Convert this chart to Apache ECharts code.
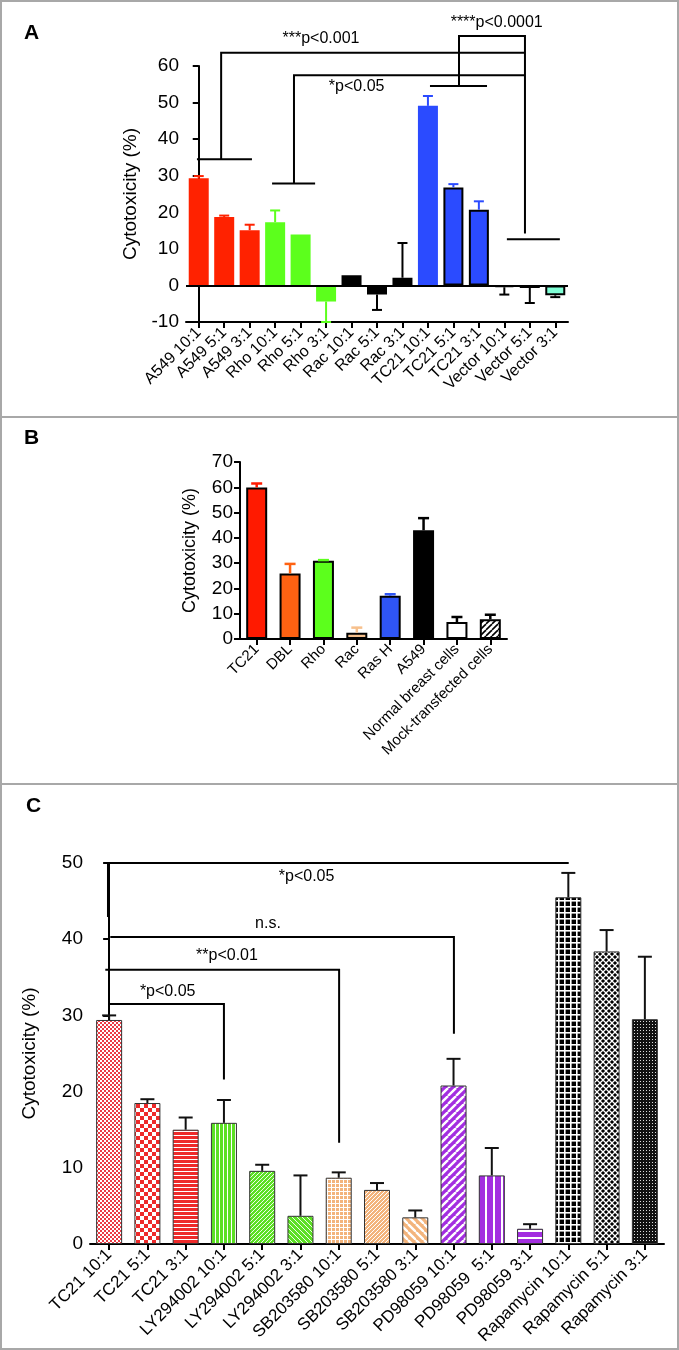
<!DOCTYPE html>
<html><head><meta charset="utf-8">
<script src="https://cdn.jsdelivr.net/npm/echarts@6/dist/echarts.min.js"></script>
<style>html,body{margin:0;padding:0;background:#fff}#c{width:679px;height:1350px}</style>
</head><body><div id="c"></div><script>
// ---------- DATA ----------
// Panel A
const catsA = ['A549 10:1','A549 5:1','A549 3:1','Rho 10:1','Rho 5:1','Rho 3:1','Rac 10:1','Rac 5:1','Rac 3:1','TC21 10:1','TC21 5:1','TC21 3:1','Vector 10:1','Vector 5:1','Vector 3:1'];
const valsA = [29.3,18.7,15.1,17.3,13.9,-4.4,2.8,-2.5,2.1,49.1,26.8,20.7,-0.5,-0.7,-2.7];
const semA  = [0.6,0.4,1.5,3.2,0,5.6,0,4.2,9.5,2.7,0.9,2.3,2.0,4.1,0.5];
// significance annotations, panel A (category index, value)
const bracketsA = [
  [[-0.07,34.5],[2.09,34.5]],
  [[0.88,34.5],[0.88,63.6],[12.81,63.6]],
  [[2.88,27.9],[4.57,27.9]],
  [[3.74,27.9],[3.74,57.5],[12.81,57.5]],
  [[9.08,54.5],[11.32,54.5]],
  [[10.22,54.5],[10.22,68.2],[12.81,68.2],[12.81,14.2]],
  [[12.10,12.6],[14.18,12.6]]
];
const notesA = [['***p<0.001',4.8,67.4],['****p<0.0001',11.7,71.8],['*p<0.05',6.2,54.5]];

// Panel B
const catsB = ['TC21','DBL','Rho','Rac','Ras H','A549','Normal breast cells','Mock-transfected cells'];
const valsB = [59.9,25.9,30.9,2.5,17.1,43.0,6.7,7.8];
const semB  = [1.6,3.8,0.3,2.0,0.6,4.8,2.0,1.8];

// Panel C
const catsC = ['TC21 10:1','TC21 5:1','TC21 3:1','LY294002 10:1','LY294002 5:1','LY294002 3:1','SB203580 10:1','SB203580 5:1','SB203580 3:1','PD98059 10:1','PD98059  5:1','PD98059 3:1','Rapamycin 10:1','Rapamycin 5:1','Rapamycin 3:1'];
const valsC = [29.4,18.5,15.0,15.9,9.6,3.7,8.7,7.1,3.5,20.8,9.0,2.0,45.5,38.4,29.5];
const semC  = [0.6,0.5,1.6,3.0,0.8,5.3,0.7,0.9,0.9,3.5,3.6,0.6,3.2,2.8,8.2];
const bracketsC = [
  [[-0.03,42.9],[-0.03,50],[12.01,50]],
  [[0.03,40.3],[9.01,40.3],[9.01,27.6]],
  [[-0.10,36],[6.01,36],[6.01,13.3]],
  [[-0.01,31.5],[3.0,31.5],[3.0,21.6]]
];
const notesC = [['*p<0.05',5.16,48.2],['n.s.',4.15,42.1],['**p<0.01',3.08,37.9],['*p<0.05',1.53,33.1]];

// ---------- STYLES ----------
const FONT = 'Liberation Sans, Arial, sans-serif';
const RED='#ff2200', GRN='#5cff1c', BLU='#2b4bff', AQU='#80ffd6';
const fillA = [RED,RED,RED,GRN,GRN,GRN,'#000','#000','#000',BLU,BLU,BLU,AQU,AQU,AQU];
const borderA = [null,null,null,null,null,null,'#000','#000','#000',null,'#000','#000','#000','#000','#000'];
const errColA = [RED,RED,RED,GRN,GRN,GRN,'#000','#000','#000',BLU,BLU,BLU,'#000','#000','#000'];

function pat(w,h,draw){const c=document.createElement('canvas');c.width=w;c.height=h;const g=c.getContext('2d');draw(g,w,h);return {image:c,repeat:'repeat'};}
function diag(g,s,t,col,dir){g.strokeStyle=col;g.lineWidth=t;for(let k=-1;k<=1;k++){g.beginPath();if(dir>0){g.moveTo(k*s,s);g.lineTo(k*s+s,0);}else{g.moveTo(k*s,0);g.lineTo(k*s+s,s);}g.stroke();}}
const R2='#ee2a2a', G2='#5ce024', P2='#f3b47c', V2='#a32ee0';
const fillB = ['#ff1a00','#ff6212',GRN,'#f7c08c','#2f55f5','#000','#fff',
  pat(6,6,(g,w,h)=>{g.fillStyle='#fff';g.fillRect(0,0,w,h);diag(g,6,1.6,'#000',1);})];
const errColB = ['#ff1a00','#ff6212',GRN,'#f7c08c','#2f55f5','#000','#000','#000'];
const fillC = [
  pat(4,4,(g)=>{g.fillStyle='#ec3a44';g.fillRect(0,0,4,4);g.fillStyle='#fff';g.fillRect(0,0,2,2);g.fillRect(2,2,2,2);}),
  pat(8,8,(g)=>{g.fillStyle='#fff';g.fillRect(0,0,8,8);g.fillStyle=R2;g.fillRect(0,0,4,4);g.fillRect(4,4,4,4);}),
  pat(4,4,(g)=>{g.fillStyle=R2;g.fillRect(0,0,4,4);g.fillStyle='#fff';g.fillRect(0,3,4,1);}),
  pat(4,4,(g)=>{g.fillStyle=G2;g.fillRect(0,0,4,4);g.fillStyle='#fff';g.fillRect(3,0,1,4);}),
  pat(4,4,(g)=>{g.fillStyle=G2;g.fillRect(0,0,4,4);diag(g,4,0.9,'#fff',1);}),
  pat(5,5,(g)=>{g.fillStyle=G2;g.fillRect(0,0,5,5);diag(g,5,0.9,'#fff',-1);}),
  pat(4,4,(g)=>{g.fillStyle=P2;g.fillRect(0,0,4,4);g.fillStyle='#fff';g.fillRect(3,0,1,4);g.fillRect(0,3,4,1);}),
  pat(4,4,(g)=>{g.fillStyle=P2;g.fillRect(0,0,4,4);diag(g,4,1,'#fff',1);}),
  pat(8,8,(g)=>{g.fillStyle=P2;g.fillRect(0,0,8,8);diag(g,8,2.4,'#fff',-1);}),
  pat(8,8,(g)=>{g.fillStyle=V2;g.fillRect(0,0,8,8);diag(g,8,2.4,'#fff',1);}),
  pat(8,8,(g)=>{g.fillStyle=V2;g.fillRect(0,0,8,8);g.fillStyle='#fff';g.fillRect(5,0,2,8);}),
  pat(7,7,(g)=>{g.fillStyle=V2;g.fillRect(0,0,7,7);g.fillStyle='#fff';g.fillRect(0,5,7,2);}),
  pat(6,6,(g)=>{g.fillStyle='#000';g.fillRect(0,0,6,6);g.fillStyle='#fff';g.fillRect(0,0,6,1.6);g.fillRect(0,0,1.6,6);}),
  pat(6,6,(g)=>{g.fillStyle='#fff';g.fillRect(0,0,6,6);g.fillStyle='#000';
     const d=(x,y)=>{g.beginPath();g.moveTo(x,y-2.1);g.lineTo(x+2.1,y);g.lineTo(x,y+2.1);g.lineTo(x-2.1,y);g.closePath();g.fill();};
     d(3,3);d(0,0);d(6,0);d(0,6);d(6,6);}),
  pat(3,3,(g)=>{g.fillStyle='#111';g.fillRect(0,0,3,3);g.fillStyle='#ddd';g.fillRect(1,1,1,1);})
];

// ---------- HELPERS ----------
function yAx(grid,min,max,name,gap,fs,nfs){return {type:'value',gridIndex:grid,min:min,max:max,interval:10,
  axisLine:{show:true,lineStyle:{color:'#000',width:2}},
  axisTick:{show:true,length:6,lineStyle:{color:'#000',width:2}},
  axisLabel:{color:'#000',fontSize:fs,fontFamily:FONT,margin:7},
  splitLine:{show:false},
  name:name,nameLocation:'middle',nameGap:gap,nameTextStyle:{color:'#000',fontSize:nfs,fontFamily:FONT}};}
function xCat(grid,cats,fs){return {type:'category',gridIndex:grid,data:cats,boundaryGap:true,
  axisLine:{show:true,onZero:false,lineStyle:{color:'#000',width:2}},
  axisTick:{show:true,alignWithLabel:true,length:6,lineStyle:{color:'#000',width:2}},
  axisLabel:{interval:0,rotate:45,color:'#000',fontSize:fs,fontFamily:FONT,margin:8}};}
function xVal(grid,n){return {type:'value',gridIndex:grid,min:-0.5,max:n-0.5,show:false};}

function errSeries(xi,yi,vals,sem,cols,capW,lw){
  return {type:'custom',xAxisIndex:xi,yAxisIndex:yi,z:5,clip:false,
    data:vals.map((v,i)=>[i,v,sem[i]]),
    renderItem:function(params,api){
      const i=api.value(0),v=api.value(1),e=api.value(2);
      if(!(e>0)) return null;
      const end=v>=0?v+e:v-e;
      const p0=api.coord([i,v]),p1=api.coord([i,end]);
      const st={stroke:cols[i],lineWidth:lw};
      return {type:'group',children:[
        {type:'line',shape:{x1:p0[0],y1:p0[1],x2:p1[0],y2:p1[1]},style:st},
        {type:'line',shape:{x1:p1[0]-capW/2,y1:p1[1],x2:p1[0]+capW/2,y2:p1[1]},style:st}]};
    }};
}
function bracketSeries(xi,yi,brs){
  return {type:'custom',xAxisIndex:xi,yAxisIndex:yi,z:6,clip:false,silent:true,
    data:brs.map((b,k)=>[k,0]),
    renderItem:function(params,api){
      const pts=brs[params.dataIndex].map(p=>api.coord(p));
      return {type:'polyline',shape:{points:pts},style:{stroke:'#000',lineWidth:2,fill:null}};
    }};
}
function noteSeries(xi,yi,notes,fs){
  return {type:'custom',xAxisIndex:xi,yAxisIndex:yi,z:6,clip:false,silent:true,
    data:notes.map((n,k)=>[k,0]),
    renderItem:function(params,api){
      const n=notes[params.dataIndex];const p=api.coord([n[1],n[2]]);
      return {type:'text',x:p[0],y:p[1],style:{text:n[0],fill:'#000',fontSize:fs,fontFamily:FONT,align:'center',verticalAlign:'middle'}};
    }};
}

const chart = echarts.init(document.getElementById('c'),null,{renderer:'canvas'});
chart.setOption({
  animation:false,
  backgroundColor:'#fff',
  grid:[
    {left:186,top:66,width:382,height:256},
    {left:240,top:462,width:267,height:177},
    {left:90,top:863,width:574,height:381}
  ],
  xAxis:[xCat(0,catsA,16),xVal(0,catsA.length),xCat(1,catsB,15),xCat(2,catsC,17),xVal(2,catsC.length)],
  yAxis:[yAx(0,-10,60,'Cytotoxicity (%)',46,19,19),yAx(1,0,70,'Cytotoxicity (%)',41,19,18),yAx(2,0,50,'Cytotoxicity (%)',51,19,19)],
  series:[
    {type:'bar',xAxisIndex:0,yAxisIndex:0,barWidth:20,
      data:valsA.map((v,i)=>({value:v,itemStyle:{color:fillA[i],borderColor:borderA[i]||fillA[i],borderWidth:borderA[i]?2:0}})),
      markLine:{silent:true,symbol:['none','none'],label:{show:false},lineStyle:{color:'#000',width:2,type:'solid'},data:[{yAxis:0}]}},
    errSeries(0,0,valsA,semA,errColA,10,2),
    bracketSeries(1,0,bracketsA),
    noteSeries(1,0,notesA,16),
    {type:'bar',xAxisIndex:2,yAxisIndex:1,barWidth:21,
      data:valsB.map((v,i)=>({value:v,itemStyle:{color:fillB[i],borderColor:'#000',borderWidth:2}}))},
    errSeries(2,1,valsB,semB,errColB,11,2.5),
    {type:'bar',xAxisIndex:3,yAxisIndex:2,barWidth:26,
      data:valsC.map((v,i)=>({value:v,itemStyle:{color:fillC[i],borderColor:'#333',borderWidth:1}}))},
    errSeries(3,2,valsC,semC,valsC.map(()=>'#111'),14,2),
    bracketSeries(4,2,bracketsC),
    noteSeries(4,2,notesC,16)
  ],
  graphic:[
    {type:'rect',shape:{x:1,y:1,width:677,height:1348},style:{fill:null,stroke:'#a8a8a8',lineWidth:2},silent:true},
    {type:'line',shape:{x1:0,y1:417,x2:679,y2:417},style:{stroke:'#a8a8a8',lineWidth:2},silent:true},
    {type:'line',shape:{x1:0,y1:784,x2:679,y2:784},style:{stroke:'#a8a8a8',lineWidth:2},silent:true},
    {type:'text',left:24,top:23,style:{text:'A',fontSize:21,fontWeight:'bold',fontFamily:FONT,fill:'#000'}},
    {type:'text',left:24,top:428,style:{text:'B',fontSize:21,fontWeight:'bold',fontFamily:FONT,fill:'#000'}},
    {type:'text',left:26,top:796,style:{text:'C',fontSize:21,fontWeight:'bold',fontFamily:FONT,fill:'#000'}}
  ]
});
</script></body></html>
